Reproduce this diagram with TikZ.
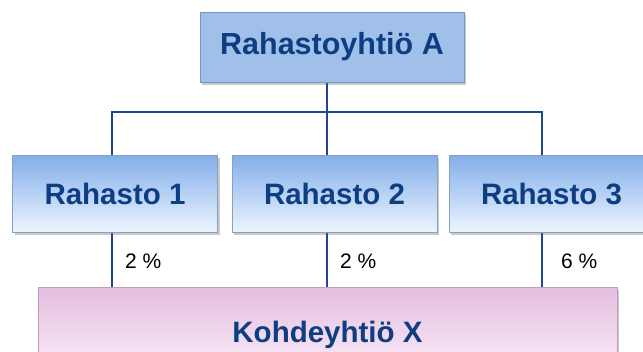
\documentclass[tikz,border=0pt]{standalone}
\usepackage{fontspec}
\setmainfont{Liberation Sans}
\usetikzlibrary{shadows}
\definecolor{txtblue}{RGB}{14,62,130}
\definecolor{linblue}{RGB}{30,70,145}
\definecolor{topfill}{RGB}{160,192,234}
\definecolor{topedge}{RGB}{120,150,195}
\definecolor{rtop}{RGB}{130,174,234}
\definecolor{rbot}{RGB}{236,245,254}
\definecolor{redge}{RGB}{140,160,190}
\definecolor{ptop}{RGB}{228,190,224}
\definecolor{pmid}{RGB}{205,145,198}
\definecolor{pbot}{RGB}{246,228,244}
\definecolor{pedge}{RGB}{190,160,190}
\tikzset{
  boxbase/.style={rectangle, inner sep=0pt, text=txtblue,
    font=\fontsize{29.5}{34}\selectfont\bfseries,
    drop shadow={shadow xshift=2pt, shadow yshift=-3pt, opacity=0.35, fill=black!60}},
  topbox/.style={boxbase, fill=topfill, draw=topedge, line width=0.8pt,
    minimum width=264pt, minimum height=70pt, font=\fontsize{30.5}{34}\selectfont\bfseries},
  fundbox/.style={boxbase, top color=rtop, bottom color=rbot, draw=redge, line width=0.8pt,
    minimum width=205pt, minimum height=77pt},
  targetbox/.style={boxbase, top color=ptop, middle color=pmid, bottom color=pbot,
    draw=pedge, line width=0.8pt, minimum width=579pt, minimum height=70pt},
  targettext/.style={inner sep=0pt, text=txtblue, font=\fontsize{29.5}{34}\selectfont\bfseries},
  link/.style={draw=linblue, line width=1.6pt},
  pct/.style={anchor=west, inner sep=0pt, font=\fontsize{21}{24}\selectfont, text=black}
}
\begin{document}
\begin{tikzpicture}[x=1pt, y=-1pt]
\useasboundingbox (0,0) rectangle (643,351);
\clip (0,0) rectangle (643,351);
\coordinate (l1) at (112,0);
\coordinate (l2) at (327,0);
\coordinate (l3) at (542,0);
\coordinate (bus) at (0,112);
% connectors first (behind boxes)
\draw[link] (l1 |- 0,193) |- (l3 |- bus) -- (l3 |- 0,193);
\draw[link] (l2 |- 0,47) -- (l2 |- 0,193);
\draw[link] (l1 |- 0,193) -- (l1 |- 0,320);
\draw[link] (l2 |- 0,193) -- (l2 |- 0,320);
\draw[link] (l3 |- 0,193) -- (l3 |- 0,320);
% boxes
\node[topbox] (top) at (332,47) {Rahastoyhtiö A};
\node[fundbox] (r1) at (115,193.5) {Rahasto 1};
\node[fundbox] (r2) at (334.5,193.5) {Rahasto 2};
\node[fundbox] (r3) at (551.5,193.5) {Rahasto 3};
\node[targetbox] (x) at (327.5,322) {};
\node[targettext] (xt) at (327.5,335) {Kohdeyhtiö X};
% percentage labels
\node[pct] (p1) at (125,261) {2 \%};
\node[pct] (p2) at (340,261) {2 \%};
\node[pct] (p3) at (561,261) {6 \%};
\end{tikzpicture}
\end{document}
